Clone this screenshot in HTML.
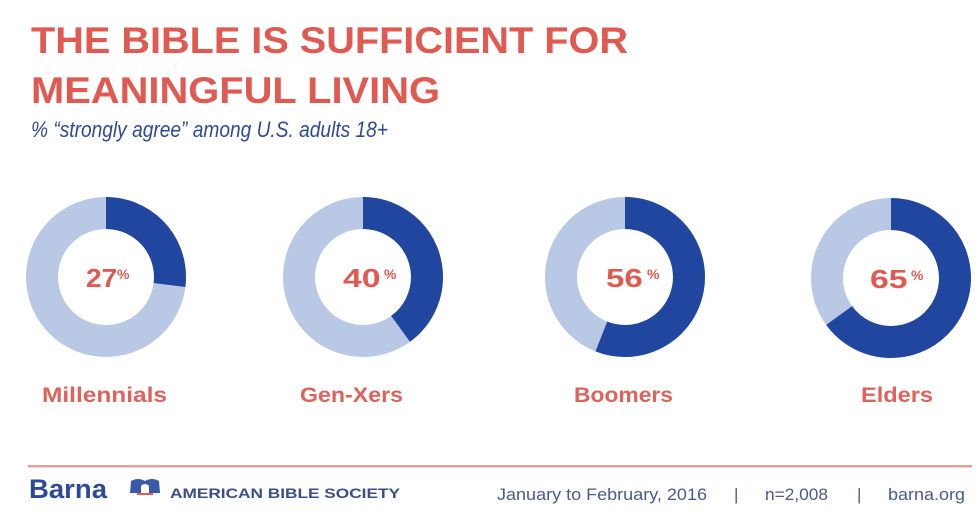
<!DOCTYPE html>
<html>
<head>
<meta charset="utf-8">
<style>
  html, body { margin: 0; padding: 0; background: #ffffff; }
  svg { display: block; }
</style>
</head>
<body>
<svg width="980" height="519" viewBox="0 0 980 519" xmlns="http://www.w3.org/2000/svg">
  <rect x="0" y="0" width="980" height="519" fill="#ffffff"/>

  <!-- Title -->
  <text x="31" y="53" font-family="Liberation Sans, sans-serif" font-weight="bold" font-size="37" fill="#e05a52" textLength="597" lengthAdjust="spacingAndGlyphs">THE BIBLE IS SUFFICIENT FOR</text>
  <text x="31" y="103" font-family="Liberation Sans, sans-serif" font-weight="bold" font-size="37" fill="#e05a52" textLength="409" lengthAdjust="spacingAndGlyphs">MEANINGFUL LIVING</text>
  <text x="31" y="137" font-family="Liberation Sans, sans-serif" font-style="italic" font-size="22" fill="#2f4a96" textLength="357" lengthAdjust="spacingAndGlyphs">% “strongly agree” among U.S. adults 18+</text>

  <!-- Donuts: r mid 64, stroke 32, circumference 402.12 -->
  <g fill="none" stroke-width="32">
    <circle cx="106" cy="277" r="64" stroke="#b9c9e5"/>
    <circle cx="106" cy="277" r="64" stroke="#2146a0" stroke-dasharray="108.57 402.12" transform="rotate(-90 106 277)"/>
    <circle cx="363" cy="277" r="64" stroke="#b9c9e5"/>
    <circle cx="363" cy="277" r="64" stroke="#2146a0" stroke-dasharray="160.85 402.12" transform="rotate(-90 363 277)"/>
    <circle cx="625" cy="277" r="64" stroke="#b9c9e5"/>
    <circle cx="625" cy="277" r="64" stroke="#2146a0" stroke-dasharray="225.19 402.12" transform="rotate(-90 625 277)"/>
    <circle cx="891" cy="278" r="64" stroke="#b9c9e5"/>
    <circle cx="891" cy="278" r="64" stroke="#2146a0" stroke-dasharray="261.38 402.12" transform="rotate(-90 891 278)"/>
  </g>

  <!-- Percent labels -->
  <g font-family="Liberation Sans, sans-serif" font-weight="bold" fill="#e05a52">
    <text transform="translate(86 287) scale(1.08 1)" x="0" y="0" font-size="26">27</text>
    <text x="117" y="279" font-size="14">%</text>

    <text transform="translate(343 287) scale(1.3 1)" x="0" y="0" font-size="26">40</text>
    <text x="384" y="279" font-size="14">%</text>

    <text transform="translate(606 287) scale(1.27 1)" x="0" y="0" font-size="26">56</text>
    <text x="647" y="279" font-size="14">%</text>

    <text transform="translate(870 288) scale(1.3 1)" x="0" y="0" font-size="26">65</text>
    <text x="911" y="280" font-size="14">%</text>
  </g>

  <!-- Category labels -->
  <g font-family="Liberation Sans, sans-serif" font-weight="bold" font-size="21" fill="#e0625a">
    <text x="42" y="402" textLength="125" lengthAdjust="spacingAndGlyphs">Millennials</text>
    <text x="300" y="402" textLength="103" lengthAdjust="spacingAndGlyphs">Gen-Xers</text>
    <text x="574" y="402" textLength="99" lengthAdjust="spacingAndGlyphs">Boomers</text>
    <text x="861" y="402" textLength="72" lengthAdjust="spacingAndGlyphs">Elders</text>
  </g>

  <!-- Footer rule -->
  <rect x="28" y="465" width="944" height="2.5" fill="#e2a29c"/>

  <!-- Footer left -->
  <text x="29" y="498" font-family="Liberation Sans, sans-serif" font-weight="bold" font-size="27" fill="#2d4a9a" textLength="78" lengthAdjust="spacingAndGlyphs">Barna</text>
  <g>
    <path d="M131 481 Q138 477 145 481 Q152 477 159 481 L160 493 L130 493 Z" fill="#3a5aa8"/>
    <path d="M141 486 Q145 482 149 486 L149 493 L141 493 Z" fill="#ffffff"/>
    <rect x="137" y="493" width="16" height="2" fill="#e05a52"/>
  </g>
  <text x="170" y="498" font-family="Liberation Sans, sans-serif" font-weight="bold" font-size="14" fill="#3b4d8a" textLength="230" lengthAdjust="spacingAndGlyphs">AMERICAN BIBLE SOCIETY</text>

  <!-- Footer right -->
  <g font-family="Liberation Sans, sans-serif" font-size="17" fill="#4a5a8e">
    <text x="497" y="500" textLength="210" lengthAdjust="spacingAndGlyphs">January to February, 2016</text>
    <text x="734" y="500">|</text>
    <text x="765" y="500" textLength="63" lengthAdjust="spacingAndGlyphs">n=2,008</text>
    <text x="857" y="500">|</text>
    <text x="888" y="500" textLength="77" lengthAdjust="spacingAndGlyphs">barna.org</text>
  </g>
</svg>
</body>
</html>
